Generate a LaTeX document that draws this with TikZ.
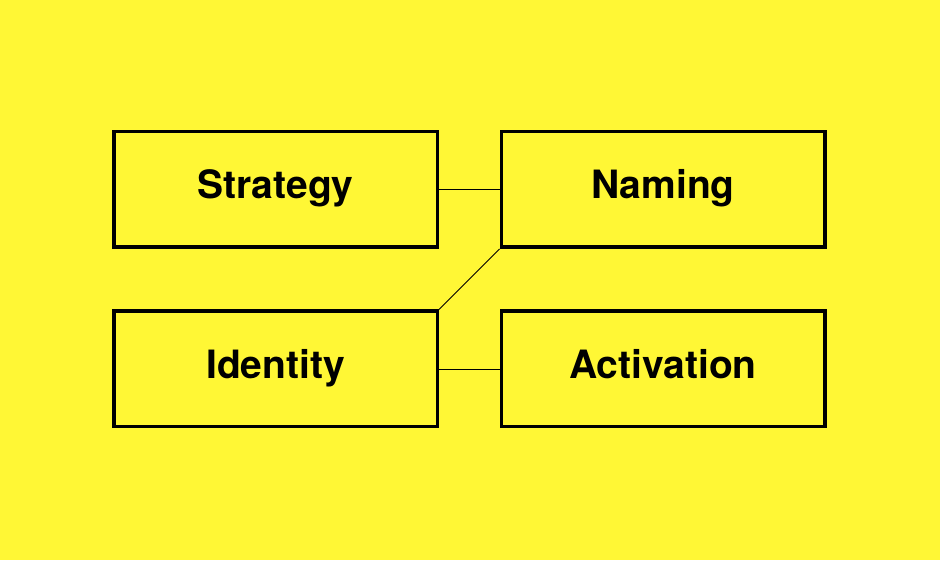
\documentclass[tikz,border=0pt]{standalone}
\usepackage{fontspec}
\setmainfont{TeX Gyre Heros}
\definecolor{bgyellow}{RGB}{255,247,53}
\tikzset{
  areabox/.style={draw=black, line width=3.5pt, minimum width=323.5pt, minimum height=115.5pt, inner sep=0pt,
    text height=29pt, text depth=10pt, font=\fontsize{39}{44}\selectfont\bfseries},
  link/.style={draw=black, line width=0.9pt}
}

\begin{document}
\begin{tikzpicture}[x=1pt, y=1pt]
			%%%%% START %%%%%
			
			\fill[bgyellow] (0, 0) rectangle (940, 560);
			
			\node[areabox] (strategy) at (275.5, 370.5) {Strategy};
			\node[areabox] (naming) at (663, 370.5) {Naming};
			\node[areabox] (identity) at (275.5, 191) {Identity};
			\node[areabox] (activation) at (663, 191) {Activation};
			
			\draw[link] (strategy.east) -- (naming.west);
			\draw[link] (naming.south west) -- (identity.north east);
			\draw[link] (identity.east) -- (activation.west);
			
			%%%%% END %%%%%
		\end{tikzpicture}
\end{document}
